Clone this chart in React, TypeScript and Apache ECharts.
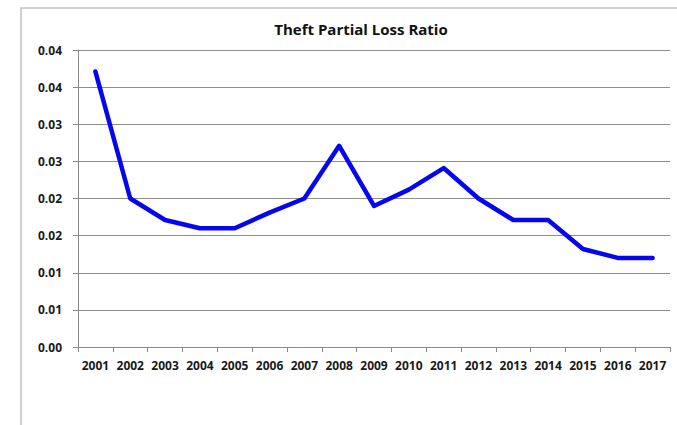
import React, { useEffect, useRef } from "react";
import * as echarts from "echarts";

const years = ["2001", "2002", "2003", "2004", "2005", "2006", "2007", "2008", "2009", "2010", "2011", "2012", "2013", "2014", "2015", "2016", "2017"];
const lossRatio = [0.0371, 0.02, 0.0171, 0.016, 0.016, 0.0181, 0.02, 0.0271, 0.019, 0.0212, 0.0241, 0.02, 0.0171, 0.0171, 0.0132, 0.012, 0.012];
const yTickLabels = ["0.00", "0.01", "0.01", "0.02", "0.02", "0.03", "0.03", "0.04", "0.04"];
const yStep = 0.005;

const FONT = "'Open Sans', 'Liberation Sans', sans-serif";

export default function App() {
  const ref = useRef<HTMLDivElement>(null);

  useEffect(() => {
    if (!ref.current) return;
    const chart = echarts.init(ref.current, undefined, { renderer: "svg" });
    chart.setOption({
      animation: false,
      backgroundColor: "#ffffff",
      title: {
        text: "Theft Partial Loss Ratio",
        left: 356,
        top: 16,
        textAlign: "center",
        textStyle: { fontFamily: FONT, fontWeight: "bold", fontSize: 15, color: "#111111" },
      },
      graphic: [
        {
          type: "rect",
          shape: { x: 21, y: 8, width: 700, height: 500 },
          style: { fill: "none", stroke: "#c4c4c4", lineWidth: 1.5 },
          silent: true,
        },
      ],
      grid: { left: 78, right: 7, top: 50, bottom: 78 },
      xAxis: {
        type: "category",
        data: years,
        boundaryGap: true,
        axisLine: { show: true, lineStyle: { color: "#8a8a8a", width: 1 } },
        axisTick: { show: true, alignWithLabel: false, length: 5, lineStyle: { color: "#8a8a8a" } },
        axisLabel: { fontFamily: FONT, fontWeight: "bold", fontSize: 12, color: "#1a1a1a", margin: 12, interval: 0 },
        splitLine: { show: false },
      },
      yAxis: {
        type: "value",
        min: 0,
        max: 0.04,
        interval: yStep,
        axisLine: { show: true, lineStyle: { color: "#8a8a8a", width: 1 } },
        axisTick: { show: true, length: 5, lineStyle: { color: "#8a8a8a" } },
        axisLabel: {
          fontFamily: FONT,
          fontWeight: "bold",
          fontSize: 12,
          color: "#1a1a1a",
          margin: 16,
          formatter: (v: number) => yTickLabels[Math.round(v / yStep)] ?? "",
        },
        splitLine: { show: true, lineStyle: { color: "#8e8e8e", width: 1 } },
      },
      series: [
        {
          type: "line",
          data: lossRatio,
          showSymbol: false,
          symbol: "none",
          lineStyle: { color: "#0505f0", width: 4.5, join: "round", cap: "round" },
        },
      ],
    });
    return () => chart.dispose();
  }, []);

  return (
    <div
      ref={ref}
      style={{ position: "absolute", left: 0, top: 0, width: 677, height: 425 }}
    />
  );
}
